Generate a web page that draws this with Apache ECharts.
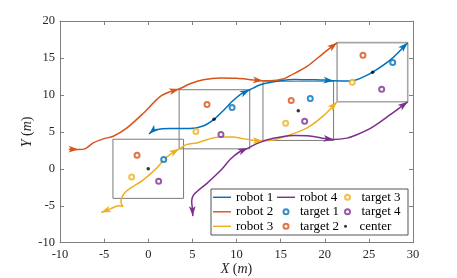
<!DOCTYPE html>
<html><head><meta charset="utf-8">
<script src="https://cdn.jsdelivr.net/npm/echarts@6/dist/echarts.min.js"></script>
<style>html,body{margin:0;padding:0;background:#fff}#c{width:457px;height:278px}</style>
</head><body><div id="c"></div>
<script>
// ---- data ----
const xTicks = [-10, 30, 5];
const yTicks = [-10, 20, 5];
const robot1 = [[0.1,4.7],[0.5,5.15],[1.4,5.4],[2.5,5.45],[4.7,5.45],[6.2,5.8],[7.45,6.7],[8.6,8.0],[9.5,9.1],[10.5,10.1],[11.5,10.7],[12.8,11.4],[14.9,11.9],[16.6,12.1],[18.5,12.05],[20.0,12.0],[21.0,11.9],[21.9,11.88],[23.3,11.95],[24.5,12.5],[25.43,13.07],[27.4,14.7],[29.4,17.07]];
const robot2 = [[-9.0,2.66],[-7.9,2.62],[-7.17,2.7],[-6.23,3.5],[-5.09,4.05],[-3.96,4.4],[-2.45,5.5],[-0.56,7.52],[1.33,9.77],[2.5,10.45],[3.5,10.8],[4.73,11.5],[6.24,12.05],[8.13,12.3],[10.02,12.25],[11.9,12.03],[13.0,11.93],[13.8,11.92],[15.3,12.15],[16.06,12.6],[17.95,13.82],[19.84,15.63],[21.4,17.07]];
const robot3 = [[-5.35,-5.9],[-4.33,-5.45],[-3.39,-5.0],[-2.85,-5.1],[-3.09,-4.55],[-3.01,-3.96],[-2.63,-3.2],[-1.88,-2.52],[-0.56,-1.49],[0.96,0.09],[1.78,1.22],[2.6,2.05],[3.5,2.7],[4.4,3.3],[5.5,3.5],[6.8,4.0],[8.1,4.3],[9.5,4.3],[10.9,4.05],[12.3,3.8],[13.0,3.8],[14.2,3.9],[15.2,4.25],[16.1,4.6],[17.95,5.5],[19.84,7.16],[21.4,9.07]];
const robot4 = [[5.05,-6.4],[5.0,-5.4],[4.92,-4.4],[5.1,-3.6],[5.6,-3.0],[6.62,-2.0],[8.3,-0.1],[9.3,1.3],[10.4,2.34],[11.3,2.8],[12.29,3.4],[13.42,3.9],[15.0,4.3],[16.6,4.5],[18.3,4.45],[20.0,4.1],[21.0,3.95],[22.5,4.15],[23.62,4.6],[25.5,5.72],[27.39,7.3],[29.4,9.07]];
// arrows: [tip index, from index]
const robot1Arrows = [[0,1],[10,9],[16,15],[22,21]];
const robot2Arrows = [[1,0],[10,9],[16,15],[22,21]];
const robot3Arrows = [[0,1],[12,11],[20,19],[26,25]];
const robot4Arrows = [[0,1],[9,8],[16,15],[21,20]];
// formation boxes [x0, y0, x1, y1]
const boxes = [[-4,-4,4,4],[3.5,2.7,11.5,10.7],[13,3.84,21,11.84],[21.4,9.07,29.4,17.07]];
const target1 = [[1.75,1.26],[9.5,8.28],[18.36,9.5],[27.7,14.4]];
const target2 = [[-1.27,1.85],[6.66,8.69],[16.2,9.23],[24.33,15.36]];
const target3 = [[-1.88,-1.12],[5.4,5.04],[15.57,6.17],[23.12,11.7]];
const target4 = [[1.18,-1.7],[8.24,4.64],[17.72,6.44],[26.45,10.77]];
const centers = [[0,0],[7.45,6.7],[17,7.84],[25.43,13.07]];

// ---- style ----
const colors = ['#0072BD','#D95319','#EDB120','#7E2F8E'];
const FONT = 'Liberation Serif';
const axisGray = '#808080';
const robots = [robot1, robot2, robot3, robot4];
const arrows = [robot1Arrows, robot2Arrows, robot3Arrows, robot4Arrows];
const targets = [target1, target2, target3, target4];

const series = [];
boxes.forEach((b, i) => {
  series.push({
    type: 'line', silent: true, symbol: 'none', z: 1,
    data: [[b[0],b[1]],[b[2],b[1]],[b[2],b[3]],[b[0],b[3]],[b[0],b[1]]],
    lineStyle: { color: i === 3 ? '#a6a6a6' : '#7a7a7a', width: i === 3 ? 1.6 : 1 }
  });
});
robots.forEach((r, i) => {
  series.push({
    name: 'robot ' + (i + 1), type: 'line', data: r, symbol: 'none', smooth: 0.3,
    lineStyle: { color: colors[i], width: 1.5 }, itemStyle: { color: colors[i] }, z: 2
  });
});
robots.forEach((r, i) => {
  series.push({
    type: 'custom', silent: true, z: 3,
    data: arrows[i].map(a => [r[a[0]][0], r[a[0]][1], r[a[1]][0], r[a[1]][1]]),
    renderItem: (params, api) => {
      const tip = api.coord([api.value(0), api.value(1)]);
      const from = api.coord([api.value(2), api.value(3)]);
      let dx = tip[0] - from[0], dy = tip[1] - from[1];
      const L = Math.hypot(dx, dy) || 1; dx /= L; dy /= L;
      const len = 10, hw = 3.4, notch = 7.5;
      const nx = -dy, ny = dx;
      const bx = tip[0] - dx * len, by = tip[1] - dy * len;
      const mx = tip[0] - dx * notch, my = tip[1] - dy * notch;
      return { type: 'polygon', shape: { points: [tip, [bx + nx*hw, by + ny*hw], [mx, my], [bx - nx*hw, by - ny*hw]] },
               style: { fill: colors[i] } };
    }
  });
});
targets.forEach((t, i) => {
  series.push({
    name: 'target ' + (i + 1), type: 'scatter', data: t, symbol: 'emptyCircle', symbolSize: 5, z: 5,
    itemStyle: { color: colors[i], borderColor: colors[i], borderWidth: 1.4 }
  });
});
series.push({ name: 'center', type: 'scatter', data: centers, symbol: 'circle', symbolSize: 3.5, z: 5,
  itemStyle: { color: '#000' } });

const lineIcon = 'path://M0,0 L20,0 L20,1.6 L0,1.6 Z';
const txt = { fontFamily: FONT, fontSize: 13, color: '#000', lineHeight: 14 };
function leg(left, top, names, ih) {
  return { orient: 'vertical', left: left, top: top, itemWidth: 18, itemHeight: ih, itemGap: 0.5, padding: 0,
    data: names.map(n => n.indexOf('robot') === 0 ? { name: n, icon: lineIcon } : { name: n }),
    textStyle: txt, selectedMode: false, z: 6 };
}
const nameStyle = { fontFamily: FONT, fontSize: 14, color: '#262626',
  rich: { i: { fontFamily: FONT, fontSize: 14, fontStyle: 'italic', color: '#262626' } } };
function axisCommon(show) {
  return {
    axisLine: { show: true, onZero: false, lineStyle: { color: axisGray, width: 1 } },
    axisTick: { show: true, inside: true, length: 4, lineStyle: { color: axisGray, width: 1 } },
    splitLine: { show: false },
    axisLabel: { show: show, color: '#262626', fontFamily: FONT, fontSize: 12.5 }
  };
}
const option = {
  animation: false,
  backgroundColor: '#fff',
  grid: { left: 60, right: 44, top: 21, bottom: 35.3, containLabel: false, outerBoundsMode: 'none' },
  xAxis: [
    Object.assign({ type: 'value', min: xTicks[0], max: xTicks[1], interval: xTicks[2], position: 'bottom',
      name: '{i|X} ({i|m})', nameLocation: 'middle', nameGap: 20, nameMoveOverlap: false, nameTextStyle: nameStyle }, axisCommon(true),
      { axisLabel: { color: '#262626', fontFamily: FONT, fontSize: 12.5, margin: 6 } }),
    Object.assign({ type: 'value', min: xTicks[0], max: xTicks[1], interval: xTicks[2], position: 'top' }, axisCommon(false))
  ],
  yAxis: [
    Object.assign({ type: 'value', min: yTicks[0], max: yTicks[1], interval: yTicks[2], position: 'left',
      name: '{i|Y} ({i|m})', nameLocation: 'middle', nameGap: 26, nameRotate: 90, nameMoveOverlap: false, nameTextStyle: nameStyle }, axisCommon(true),
      { axisLabel: { color: '#262626', fontFamily: FONT, fontSize: 12.5, margin: 5 } }),
    Object.assign({ type: 'value', min: yTicks[0], max: yTicks[1], interval: yTicks[2], position: 'right' }, axisCommon(false))
  ],
  legend: [
    leg(213, 190.3, ['robot 1','robot 2','robot 3'], 5),
    leg(277, 190.3, ['robot 4','target 1','target 2'], 5),
    leg(344, 190.3, ['target 3','target 4'], 5),
    leg(344, 219.3, ['center'], 3)
  ],
  graphic: [{ type: 'rect', z: 5, shape: { x: 211, y: 189, width: 197, height: 46 },
    style: { fill: '#fff', stroke: '#555', lineWidth: 1 } }],
  series: series
};
const chart = echarts.init(document.getElementById('c'), null, { renderer: 'canvas' });
chart.setOption(option);
</script></body></html>
